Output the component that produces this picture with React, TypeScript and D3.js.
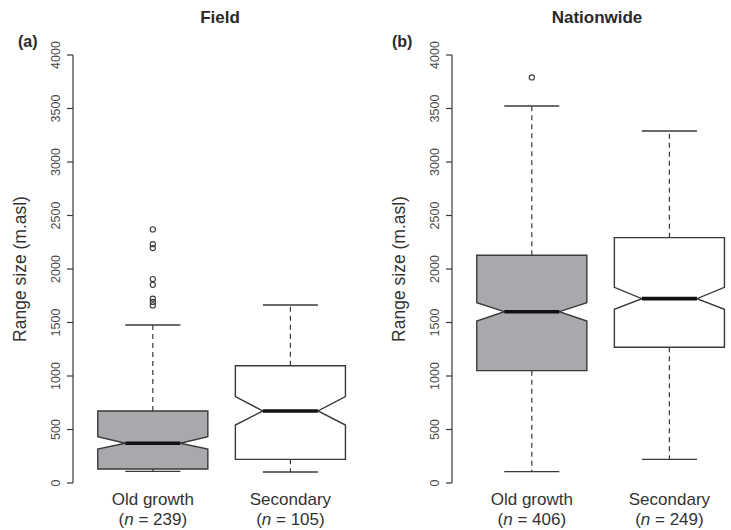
import React from "react";
import * as d3 from "d3";

// Groups shown in each panel
const groups = ["Old growth", "Secondary"];
const fieldN = [239, 105];
const nationN = [406, 249];

// Box statistics: [lower whisker, Q1, notch low, median, notch high, Q3, upper whisker]
const fieldStats = [
  [109, 131, 318, 371, 433, 673, 1477],
  [103, 221, 542, 673, 807, 1096, 1664],
];
const nationStats = [
  [106, 1050, 1514, 1601, 1685, 2128, 3523],
  [221, 1268, 1623, 1723, 1829, 2293, 3290],
];

// Points beyond the whiskers
const fieldOutliers = [
  [2370, 2232, 2196, 1906, 1852, 1722, 1692, 1660],
  [],
];
const nationOutliers = [[3790], []];

const yTicks = [0, 500, 1000, 1500, 2000, 2500, 3000, 3500, 4000];
const fills = ["#a8a9ac", "#ffffff"];

const FONT = "'Liberation Sans', Arial, Helvetica, sans-serif";

type PanelProps = {
  title: string;
  tag: string;
  tagX: number;
  axisX: number;
  titleX: number;
  stats: number[][];
  outliers: number[][];
  counts: number[];
};

function Panel({ title, tag, tagX, axisX, titleX, stats, outliers, counts }: PanelProps) {
  const unit = 137.6;
  const x = d3
    .scaleLinear()
    .domain([0.42, 2.58])
    .range([axisX, axisX + unit * 2.16]);
  const y = d3.scaleLinear().domain([0, 4000]).range([483, 55]);
  const halfW = x(1.4) - x(1); // box half-width (boxwex 0.8)
  const stroke = "#3a3a3a";

  return (
    <g>
      {/* title and panel tag */}
      <text
        x={titleX}
        y={23}
        textAnchor="middle"
        fontFamily={FONT}
        fontWeight="bold"
        fontSize={17}
        fill="#2a2a2a"
      >
        {title}
      </text>
      <text x={tagX} y={47} fontFamily={FONT} fontWeight="bold" fontSize={16} fill="#2a2a2a">
        {tag}
      </text>

      {/* y axis */}
      <line x1={axisX} x2={axisX} y1={y(0)} y2={y(4000)} stroke={stroke} strokeWidth={1.2} />
      {yTicks.map((t) => (
        <g key={t}>
          <line x1={axisX - 6} x2={axisX} y1={y(t)} y2={y(t)} stroke={stroke} strokeWidth={1.2} />
          <text
            transform={`translate(${axisX - 13},${y(t)}) rotate(-90)`}
            textAnchor="middle"
            fontFamily={FONT}
            fontSize={12.5}
            fill="#4a4a4a"
          >
            {t}
          </text>
        </g>
      ))}
      <text
        transform={`translate(${axisX - 47},${(y(0) + y(4000)) / 2}) rotate(-90)`}
        textAnchor="middle"
        fontFamily={FONT}
        fontSize={17.5}
        fill="#333"
      >
        Range size (m.asl)
      </text>

      {stats.map((s, i) => {
        const cx = x(i + 1);
        const [wLo, q1, nLo, med, nHi, q3, wHi] = s;
        const boxPath =
          d3.line()([
            [cx - halfW, y(q3)],
            [cx + halfW, y(q3)],
            [cx + halfW, y(nHi)],
            [cx + halfW / 2, y(med)],
            [cx + halfW, y(nLo)],
            [cx + halfW, y(q1)],
            [cx - halfW, y(q1)],
            [cx - halfW, y(nLo)],
            [cx - halfW / 2, y(med)],
            [cx - halfW, y(nHi)],
          ]) + "Z";
        return (
          <g key={i}>
            {/* whiskers */}
            <line x1={cx} x2={cx} y1={y(q3)} y2={y(wHi)} stroke={stroke} strokeWidth={1.2} strokeDasharray="5,4" />
            <line x1={cx} x2={cx} y1={y(q1)} y2={y(wLo)} stroke={stroke} strokeWidth={1.2} strokeDasharray="5,4" />
            <line x1={cx - halfW / 2} x2={cx + halfW / 2} y1={y(wHi)} y2={y(wHi)} stroke={stroke} strokeWidth={1.4} />
            <line x1={cx - halfW / 2} x2={cx + halfW / 2} y1={y(wLo)} y2={y(wLo)} stroke={stroke} strokeWidth={1.4} />
            {/* notched box */}
            <path d={boxPath} fill={fills[i]} stroke={stroke} strokeWidth={1.4} strokeLinejoin="miter" />
            <line x1={cx - halfW / 2} x2={cx + halfW / 2} y1={y(med)} y2={y(med)} stroke="#111" strokeWidth={3.6} />
            {/* outliers */}
            {outliers[i].map((v, k) => (
              <circle key={k} cx={cx} cy={y(v)} r={2.6} fill="none" stroke={stroke} strokeWidth={1.1} />
            ))}
            {/* category label */}
            <text x={cx} y={505} textAnchor="middle" fontFamily={FONT} fontSize={17} fill="#333">
              {groups[i]}
            </text>
            <text x={cx} y={525} textAnchor="middle" fontFamily={FONT} fontSize={17} fill="#333">
              (<tspan fontStyle="italic">n</tspan> = {counts[i]})
            </text>
          </g>
        );
      })}
    </g>
  );
}

export default function App() {
  return (
    <svg
      width={731}
      height={530}
      viewBox="0 0 731 530"
      style={{ position: "absolute", left: 0, top: 0, background: "#fff" }}
    >
      <rect width={731} height={530} fill="#fff" />
      <Panel
        title="Field"
        tag="(a)"
        tagX={18}
        axisX={73}
        titleX={220}
        stats={fieldStats}
        outliers={fieldOutliers}
        counts={fieldN}
      />
      <Panel
        title="Nationwide"
        tag="(b)"
        tagX={392}
        axisX={452}
        titleX={597}
        stats={nationStats}
        outliers={nationOutliers}
        counts={nationN}
      />
    </svg>
  );
}
